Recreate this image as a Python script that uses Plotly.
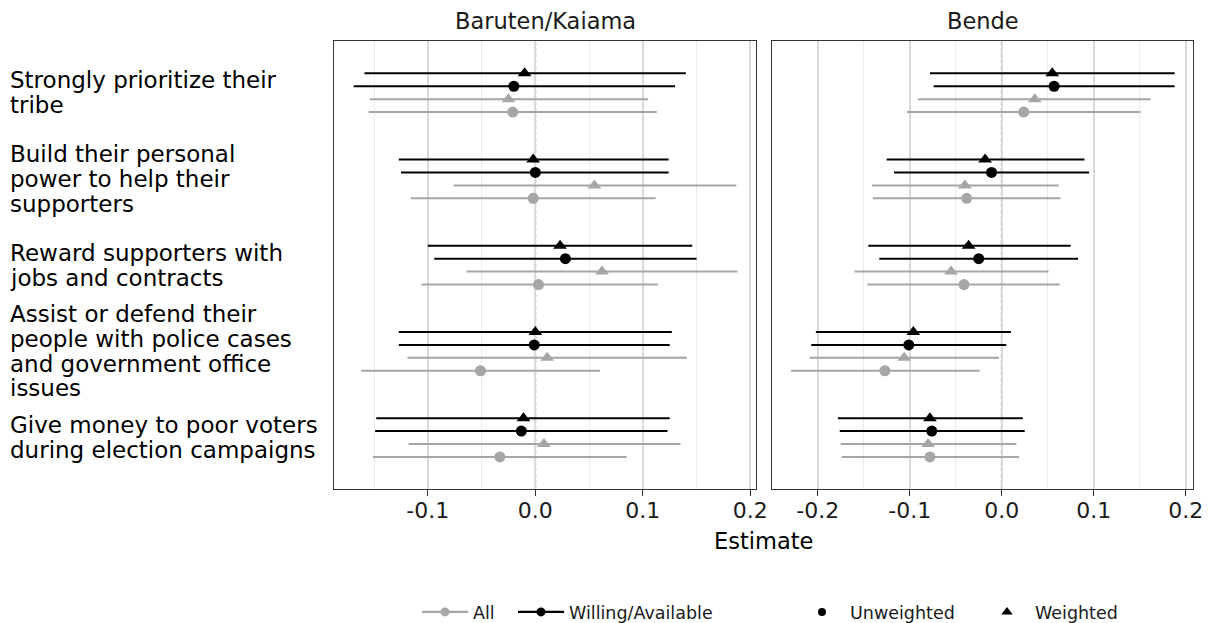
import plotly.graph_objects as go

categories = [
    ["Strongly prioritize their", "tribe"],
    ["Build their personal", "power to help their", "supporters"],
    ["Reward supporters with", "jobs and contracts"],
    ["Assist or defend their", "people with police cases", "and government office", "issues"],
    ["Give money to poor voters", "during election campaigns"],
]
panels = ["Baruten/Kaiama", "Bende"]

bk_tick_vals = [-0.1, 0.0, 0.1, 0.2]
bk_tick_text = ["-0.1", "0.0", "0.1", "0.2"]
be_tick_vals = [-0.2, -0.1, 0.0, 0.1, 0.2]
be_tick_text = ["-0.2", "-0.1", "0.0", "0.1", "0.2"]

# Baruten/Kaiama
bk_wa_w_est = [-0.010, -0.002, 0.023, 0.000, -0.011]
bk_wa_w_lo = [-0.159, -0.127, -0.100, -0.127, -0.148]
bk_wa_w_hi = [0.140, 0.124, 0.146, 0.127, 0.125]
bk_wa_u_est = [-0.020, 0.000, 0.028, -0.001, -0.013]
bk_wa_u_lo = [-0.169, -0.125, -0.094, -0.127, -0.149]
bk_wa_u_hi = [0.130, 0.124, 0.150, 0.125, 0.123]
bk_all_w_est = [-0.025, 0.055, 0.062, 0.011, 0.008]
bk_all_w_lo = [-0.154, -0.076, -0.064, -0.119, -0.118]
bk_all_w_hi = [0.105, 0.187, 0.188, 0.141, 0.135]
bk_all_u_est = [-0.021, -0.002, 0.003, -0.051, -0.033]
bk_all_u_lo = [-0.155, -0.116, -0.106, -0.162, -0.151]
bk_all_u_hi = [0.113, 0.112, 0.114, 0.060, 0.085]

# Bende
be_wa_w_est = [0.055, -0.018, -0.036, -0.096, -0.078]
be_wa_w_lo = [-0.078, -0.125, -0.145, -0.202, -0.178]
be_wa_w_hi = [0.188, 0.090, 0.075, 0.010, 0.023]
be_wa_u_est = [0.057, -0.011, -0.025, -0.101, -0.076]
be_wa_u_lo = [-0.074, -0.117, -0.133, -0.207, -0.176]
be_wa_u_hi = [0.188, 0.095, 0.083, 0.005, 0.025]
be_all_w_est = [0.036, -0.040, -0.055, -0.106, -0.080]
be_all_w_lo = [-0.091, -0.141, -0.160, -0.209, -0.175]
be_all_w_hi = [0.162, 0.062, 0.051, -0.003, 0.016]
be_all_u_est = [0.024, -0.038, -0.041, -0.127, -0.078]
be_all_u_lo = [-0.103, -0.140, -0.146, -0.229, -0.174]
be_all_u_hi = [0.151, 0.064, 0.063, -0.024, 0.019]

BLACK = "#000000"
GRAY = "#A6A6A6"
FONT = "DejaVu Sans, sans-serif"

series = [
    ("x", "y", bk_wa_w_est, bk_wa_w_lo, bk_wa_w_hi, BLACK, "triangle-up", 12, -0.225),
    ("x", "y", bk_wa_u_est, bk_wa_u_lo, bk_wa_u_hi, BLACK, "circle", 11, -0.075),
    ("x", "y", bk_all_w_est, bk_all_w_lo, bk_all_w_hi, GRAY, "triangle-up", 12, 0.075),
    ("x", "y", bk_all_u_est, bk_all_u_lo, bk_all_u_hi, GRAY, "circle", 11, 0.225),
    ("x2", "y2", be_wa_w_est, be_wa_w_lo, be_wa_w_hi, BLACK, "triangle-up", 12, -0.225),
    ("x2", "y2", be_wa_u_est, be_wa_u_lo, be_wa_u_hi, BLACK, "circle", 11, -0.075),
    ("x2", "y2", be_all_w_est, be_all_w_lo, be_all_w_hi, GRAY, "triangle-up", 12, 0.075),
    ("x2", "y2", be_all_u_est, be_all_u_lo, be_all_u_hi, GRAY, "circle", 11, 0.225),
]

fig = go.Figure()
for xa, ya, est, lo, hi, col, sym, sz, off in series:
    ys = [i + off for i in range(len(est))]
    fig.add_trace(go.Scatter(
        x=est, y=ys, xaxis=xa, yaxis=ya, mode="markers",
        marker=dict(color=col, symbol=sym, size=sz, line=dict(width=0)),
        error_x=dict(type="data", symmetric=False,
                     array=[h - e for h, e in zip(hi, est)],
                     arrayminus=[e - l for e, l in zip(est, lo)],
                     width=0, thickness=2, color=col),
        showlegend=False, hoverinfo="skip"))

# legend-only traces, one legend each for placement
fig.add_trace(go.Scatter(x=[None], y=[None], mode="lines+markers", name="All",
                         line=dict(color=GRAY, width=2.2), marker=dict(color=GRAY, size=9),
                         legend="legend"))
fig.add_trace(go.Scatter(x=[None], y=[None], mode="lines+markers", name="Willing/Available",
                         line=dict(color=BLACK, width=2.2), marker=dict(color=BLACK, size=9),
                         legend="legend2"))
fig.add_trace(go.Scatter(x=[None], y=[None], mode="markers", name="Unweighted",
                         marker=dict(color=BLACK, symbol="circle", size=8), legend="legend3"))
fig.add_trace(go.Scatter(x=[None], y=[None], mode="markers", name="Weighted",
                         marker=dict(color=BLACK, symbol="triangle-up", size=10), legend="legend4"))

W, H = 1211, 623
ydom = [1 - 489.3 / H, 1 - 41 / H]
xcommon = dict(showline=True, mirror=True, linecolor="#333333", linewidth=1,
               ticks="outside", ticklen=6, tickcolor="#333333", tickwidth=1,
               zeroline=False, ticklabelstandoff=-5,
               showgrid=True, gridcolor="#DADADA", gridwidth=1.6,
               minor=dict(dtick=0.05, tick0=0, showgrid=True, gridcolor="#ECECEC", gridwidth=1, ticks=""),
               tickfont=dict(family=FONT, size=22, color="#1A1A1A"), fixedrange=True)
ycommon = dict(range=[len(categories) - 0.4, -0.6], showgrid=False, zeroline=False,
               showticklabels=False, ticks="", showline=True, mirror=True,
               linecolor="#333333", linewidth=1, domain=ydom, fixedrange=True)

legfont = dict(family=FONT, size=17.5, color="#1A1A1A")
def leg(xpx):
    return dict(orientation="h", x=xpx / W, xanchor="left", y=1 - 612 / H, yanchor="middle",
                font=legfont, bgcolor="rgba(0,0,0,0)", itemwidth=46, tracegroupgap=0)

fig.update_layout(
    width=W, height=H, margin=dict(l=0, r=0, t=0, b=0, autoexpand=False),
    paper_bgcolor="white", plot_bgcolor="white",
    xaxis=dict(domain=[334 / W, 756 / W], range=[-0.1873, 0.2053], anchor="y",
               tickvals=bk_tick_vals, ticktext=bk_tick_text, **xcommon),
    xaxis2=dict(domain=[771.7 / W, 1193.3 / W], range=[-0.25, 0.2083], anchor="y2",
                tickvals=be_tick_vals, ticktext=be_tick_text, **xcommon),
    yaxis=dict(anchor="x", **ycommon),
    yaxis2=dict(anchor="x2", **ycommon),
    legend=leg(417), legend2=leg(513), legend3=leg(794), legend4=leg(979),
)

# zero reference lines
for xr, yr in [("x", "y domain"), ("x2", "y2 domain")]:
    fig.add_shape(type="line", xref=xr, yref=yr, x0=0, x1=0, y0=0, y1=1,
                  line=dict(color="#B5B5B5", width=2, dash="dot"), layer="below")

# facet strip titles
for name, xr in zip(panels, ["x domain", "x2 domain"]):
    fig.add_annotation(text=name, xref=xr, x=0.5, yref="paper", y=1 - 21 / H,
                       xanchor="center", yanchor="middle", showarrow=False,
                       font=dict(family=FONT, size=22.5, color="#1A1A1A"))

# x-axis title
fig.add_annotation(text="Estimate", xref="paper", x=(334 + 1193.3) / 2 / W, yref="paper",
                   y=1 - 541 / H, xanchor="center", yanchor="middle", showarrow=False,
                   font=dict(family=FONT, size=22.5, color="#000000"))

# category labels (left-aligned, one annotation per line)
LS = 24.7
for i, lines in enumerate(categories):
    n = len(lines)
    for k, ln in enumerate(lines):
        shift = ((n - 1) / 2 - k) * LS
        fig.add_annotation(text=ln, xref="paper", x=8 / W, yref="y", y=i,
                           xanchor="left", yanchor="middle", yshift=shift, showarrow=False,
                           align="left", font=dict(family=FONT, size=23, color="#000000"))

fig.write_html("out.html")
